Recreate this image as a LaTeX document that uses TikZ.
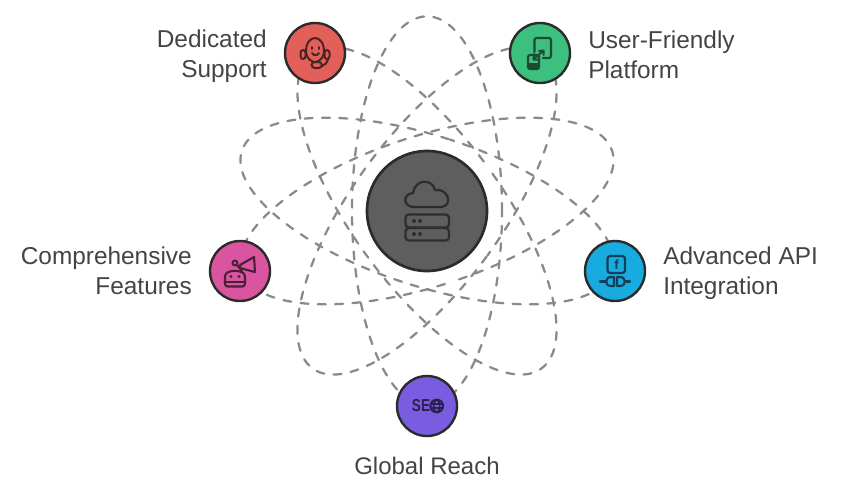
\documentclass[tikz,border=0pt]{standalone}
\usepackage{fontspec}
\setmainfont{Liberation Sans}
\definecolor{txt}{HTML}{444444}
\definecolor{dashc}{HTML}{8A8A8A}
\definecolor{rim}{HTML}{2B2B2B}
\definecolor{cgray}{HTML}{5E5E5E}
\definecolor{cred}{HTML}{E35F5A}
\definecolor{cgreen}{HTML}{3DBF7E}
\definecolor{cpink}{HTML}{D9559F}
\definecolor{cblue}{HTML}{18ABE0}
\definecolor{cpurple}{HTML}{7A5CE0}
\definecolor{ired}{HTML}{4A2422}
\definecolor{igreen}{HTML}{1E4A34}
\definecolor{igray}{HTML}{2E2E2E}
\definecolor{ipink}{HTML}{4A1F38}
\definecolor{iblue}{HTML}{123F55}
\definecolor{ipurple}{HTML}{2A2150}
\begin{document}
\begin{tikzpicture}[x=0.75pt,y=-0.75pt,
  orbit/.style={draw=dashc,line width=1.7pt,dash pattern=on 6pt off 7pt,line cap=round},
  hub/.style={circle,draw=rim,line width=1.8pt,minimum size=45pt,inner sep=0pt,fill=#1},
  core/.style={circle,draw=rim,line width=2pt,fill=#1,minimum size=90pt,inner sep=0pt},
  labr/.style={text=txt,align=right,anchor=east,inner sep=0pt,font=\fontsize{18.3pt}{22.5pt}\selectfont},
  labl/.style={text=txt,align=left,anchor=west,inner sep=0pt,font=\fontsize{18.3pt}{22.5pt}\selectfont},
  labc/.style={text=txt,align=center,inner sep=0pt,font=\fontsize{18pt}{22.5pt}\selectfont},
  ic/.style={line width=1.5pt,line join=round,line cap=round,draw=#1}]
\useasboundingbox (0,0) rectangle (855,497);
\coordinate (c) at (427,211);
\foreach \a/\p in {0/0,36/8,-36/3,72/12,-72/6}
  \draw[orbit,dash phase=\p pt,rotate around={\a:(c)}] (c) ellipse [x radius=56.25pt,y radius=146pt];
\node[core=cgray] (center) at (c) {};
\node[hub=cred] (support) at (315,53) {};
\node[hub=cgreen] (platform) at (540,53) {};
\node[hub=cpink] (features) at (240,271) {};
\node[hub=cblue] (api) at (615,271) {};
\node[hub=cpurple] (reach) at (427,406) {};
\node[labr] (t1) at (267,56.5) {Dedicated\\Support};
\node[labl] (t2) at (588,54.5) {User-Friendly\\Platform};
\node[labr] (t3) at (192,270.5) {Comprehensive\\Features};
\node[labl] (t4) at (663,273.5) {Advanced API\\Integration};
\node[labc] (t5) at (427,466) {Global Reach};
% centre icon
\begin{scope}[shift={(427,211)},ic=igray]
  \draw[line width=1.7pt] (-13,-4) .. controls (-24,-4) and (-25,-17) .. (-14,-18)
     .. controls (-12,-32) and (5,-33) .. (8,-21)
     .. controls (20,-23) and (27,-7) .. (15,-4) -- cycle;
  \draw[line width=1.7pt,rounded corners=2.5pt] (-21.5,3.5) rectangle (22,16.5);
  \draw[line width=1.7pt,rounded corners=2.5pt] (-21.5,17) rectangle (22,29.5);
  \fill[igray] (-13,10) circle (2) (-7,10) circle (2) (-13,23) circle (2) (-7,23) circle (2);
\end{scope}
% support icon
\begin{scope}[shift={(315,53)},ic=ired]
  \draw (-9,0) .. controls (-10,-20) and (10,-20) .. (9,0) .. controls (8,6) and (3,9) .. (0,9) .. controls (-3,9) and (-8,6) .. (-9,0);
  \draw[rounded corners=2pt] (-14.5,-3) rectangle (-9.5,6);
  \draw[rounded corners=2pt] (9.5,-3) rectangle (14.5,6);
  \draw (-3,-6) -- (-3,-4) (4,-6) -- (4,-4);
  \draw (-3,0) .. controls (-1,3) and (2,3) .. (4,0);
  \draw[rounded corners=2.5pt] (-3.5,9) rectangle (7,15);
  \draw (7,13) .. controls (10,12) and (12,10) .. (13,6);
\end{scope}
% platform icon
\begin{scope}[shift={(540,53)},ic=igreen]
  \draw[line width=1.6pt,rounded corners=1.5pt] (-5.5,-1) -- (-5.5,-15) -- (11,-15) -- (11,5) -- (3,5);
  \draw[line width=1.6pt,rounded corners=1.5pt] (-12,2) rectangle (-1,16);
  \fill[igreen] (-12,10) rectangle (-1,16);
  \draw[line width=1.5pt] (-6,6) -- (3,-2);
  \draw[line width=1.5pt] (-1,-2) -- (3.5,-2.5) -- (3.5,2);
  \draw[line width=1.5pt] (-6,1) -- (-6.5,6.5) -- (-1.5,6.5);
\end{scope}
% features icon
\begin{scope}[shift={(240,271)},ic=ipink]
  \draw[line width=1.6pt,rounded corners=2pt] (-15,15.5) -- (-15,8) .. controls (-15,-2) and (5,-2) .. (5,8) -- (5,15.5) -- cycle;
  \draw[line width=1.6pt] (-15,11) -- (5,11);
  \fill[ipink] (-9,5.5) circle (1.7) (-1,5.5) circle (1.7);
  \draw (-5,-8) circle (2.5);
  \draw (-3,-6) -- (2,0);
  \draw[line width=1.6pt] (0,-6) -- (14,-14) -- (15,1) -- (0,-3) -- cycle;
\end{scope}
% api icon
\begin{scope}[shift={(615,271)},ic=iblue]
  \draw[line width=1.6pt,rounded corners=2pt] (-7.5,-15) rectangle (10,2);
  \node[text=iblue,font=\bfseries\fontsize{10pt}{10pt}\selectfont,inner sep=0pt] (apif) at (1.5,-6.5) {f};
  \draw[line width=1.6pt] (-15,10.5) -- (-9,10.5);
  \draw[line width=1.6pt] (15,10.5) -- (10,10.5);
  \draw[line width=1.6pt] (-1,6) -- (-4,6) .. controls (-10.5,6) and (-10.5,15) .. (-4,15) -- (-1,15) -- cycle;
  \draw[line width=1.6pt] (2,6) -- (5,6) .. controls (11.5,6) and (11.5,15) .. (5,15) -- (2,15) -- cycle;
\end{scope}
% reach icon
\begin{scope}[shift={(427,406)},ic=ipurple]
  \node[text=ipurple,font=\bfseries\fontsize{13pt}{13pt}\selectfont,inner sep=0pt] (se) at (-6,0) {\scalebox{0.78}[1]{SE}};
  \draw[line width=1.6pt] (9.7,0) circle (6.3);
  \draw[line width=1.2pt] (3.7,-2) -- (15.7,-2) (3.7,2) -- (15.7,2);
  \draw[line width=1.2pt] (9.7,0) ellipse [x radius=2.2pt,y radius=4.7pt];
\end{scope}
\end{tikzpicture}
\end{document}
